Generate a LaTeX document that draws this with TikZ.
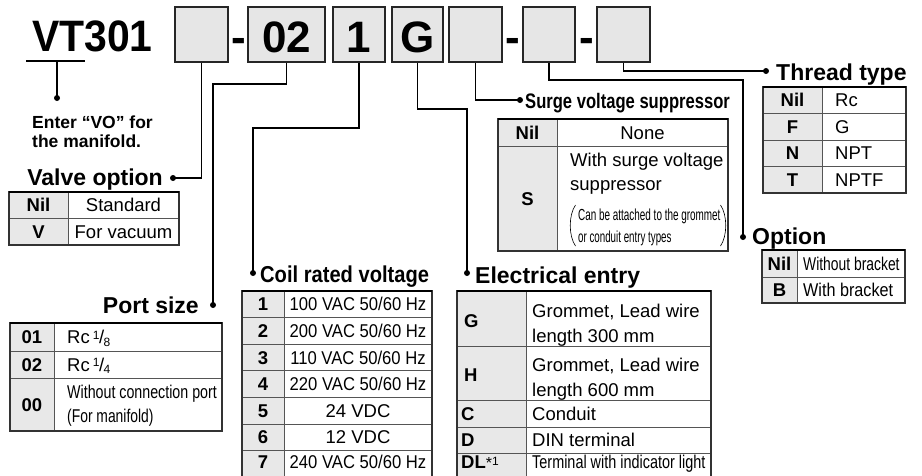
\documentclass[tikz,border=0pt]{standalone}
\usepackage{fontspec}
\setmainfont{Liberation Sans}
\usepackage{graphicx}

\definecolor{keygray}{HTML}{E8E8E8}
\definecolor{boxgray}{HTML}{E6E6E6}
\definecolor{rulegray}{HTML}{555555}

\newcommand{\condtext}[2]{\scalebox{#1}[1]{#2}}
\newcommand{\portfrac}[2]{\,{\fontsize{12}{12}\selectfont\raisebox{4.5pt}{#1}}\kern-0.5pt/\kern-0.5pt{\fontsize{12}{12}\selectfont\raisebox{-2.5pt}{#2}}}

\tikzset{
  codebox/.style={draw=black!85, line width=1.8pt, fill=boxgray, minimum height=55pt, inner sep=0, text height=35pt, text depth=0pt, font=\bfseries\fontsize{44}{44}\selectfont},
  heading/.style={inner sep=0, font=\bfseries\fontsize{23}{23}\selectfont},
  keytxt/.style={inner sep=0, text height=13pt, text depth=0pt, font=\bfseries\fontsize{18.5}{18.5}\selectfont},
  valtxt/.style={inner sep=0, text height=13pt, text depth=0pt, font=\fontsize{18.5}{18.5}\selectfont},
  notetxt/.style={inner sep=0, font=\fontsize{16}{16}\selectfont},
  lead/.style={line width=1.8pt},
  cellline/.style={draw=rulegray, line width=0.9pt},
  tableframe/.style={draw=black!80, line width=1.1pt},
  tabletop/.style={draw=black, line width=2.2pt}
}

\begin{document}
\begin{tikzpicture}[x=1pt, y=-1pt]
    \useasboundingbox (0,0) rectangle (922,475);

    % Model code
    \node[inner sep=0, anchor=base west, font=\bfseries\fontsize{44}{44}\selectfont] (vt) at (32,51) {\condtext{0.93}{VT301}};
    \draw[lead] (26,61) -- (85,61);
    \coordinate (uvt) at (57,61);
    \coordinate (dmani) at (57,98);
    \draw[lead] (uvt) -- (dmani);
    \fill (dmani) circle (3pt);
    \node[inner sep=0, anchor=base west, font=\bfseries\fontsize{17.5}{17.5}\selectfont] (enter1) at (32,128) {Enter “VO” for};
    \node[inner sep=0, anchor=base west, font=\bfseries\fontsize{17.5}{17.5}\selectfont] (enter2) at (32,147) {the manifold.};

    % Boxes
    \node[codebox, minimum width=53pt] (bxvalve) at (201.5,34.5) {};
    \node[codebox, minimum width=77pt] (bxport) at (286.5,34.5) {02};
    \node[codebox, minimum width=52pt] (bxcoil) at (359,34.5) {1};
    \node[codebox, minimum width=51pt] (bxentry) at (417.5,34.5) {G};
    \node[codebox, minimum width=53pt] (bxsurge) at (475.5,34.5) {};
    \node[codebox, minimum width=52pt] (bxoption) at (549,34.5) {};
    \node[codebox, minimum width=53pt] (bxthread) at (623.5,34.5) {};
    \node[inner sep=0, anchor=base, font=\bfseries\fontsize{44}{44}\selectfont] (dash1) at (239,52) {-};
    \node[inner sep=0, anchor=base, font=\bfseries\fontsize{44}{44}\selectfont] (dash2) at (513,52) {-};
    \node[inner sep=0, anchor=base, font=\bfseries\fontsize{44}{44}\selectfont] (dash3) at (586.5,52) {-};

    % Leader lines
    \coordinate (dvalve) at (173,178);
    \coordinate (dport) at (213,305);
    \coordinate (dcoil) at (253,273);
    \coordinate (dentry) at (467,273);
    \coordinate (dsurge) at (520,100);
    \coordinate (doption) at (743,237);
    \coordinate (dthread) at (766,71);
    \draw[lead] (bxvalve.south) |- (dvalve);
    \draw[lead] (bxport.south) -- ++(0,21) -| (dport);
    \draw[lead] (bxcoil.south) -- ++(0,65) -| (dcoil);
    \draw[lead] (bxentry.south) -- ++(0,46) -| (dentry);
    \draw[lead] (bxsurge.south) |- (dsurge);
    \draw[lead] (bxoption.south) -- ++(0,17) -| (doption);
    \draw[lead] (bxthread.south) |- (dthread);
    \foreach \d in {dvalve,dport,dcoil,dentry,dsurge,doption,dthread}
        \fill (\d) circle (3pt);

    % Headings
    \node[heading, anchor=base east] (hvalve) at (163,185.5) {Valve option};
    \node[heading, anchor=base east] (hport) at (199,313) {Port size};
    \node[heading, anchor=base west] (hcoil) at (260,282) {\condtext{0.875}{Coil rated voltage}};
    \node[heading, anchor=base west] (hentry) at (475,283) {Electrical entry};
    \node[heading, anchor=base west] (hsurge) at (525,108) {\fontsize{21}{21}\selectfont\condtext{0.79}{Surge voltage suppressor}};
    \node[heading, anchor=base west] (hthread) at (776,80) {Thread type};
    \node[heading, anchor=base west] (hoption) at (752,244) {Option};

    % Valve option table
    \fill[keygray] (9,192) rectangle (68,245);
    \draw[cellline] (9,218) -- (179,218) (68,192) -- (68,245);
    \draw[tableframe] (9,192) rectangle (179,245);
    \draw[tabletop] (9,192) -- (179,192);
    \node[keytxt] (vnil) at (38.5,205) {Nil};
    \node[valtxt] (vstd) at (123.5,205) {Standard};
    \node[keytxt] (vv) at (38.5,231.5) {V};
    \node[valtxt] (vvac) at (123.5,231.5) {For vacuum};

    % Port size table
    \fill[keygray] (10,323) rectangle (54,431);
    \draw[cellline] (10,351) -- (222,351) (10,378) -- (222,378) (54,323) -- (54,431);
    \draw[tableframe] (10,323) rectangle (222,431);
    \draw[tabletop] (10,323) -- (222,323);
    \node[keytxt] (p01) at (32,337) {01};
    \node[valtxt, anchor=west] (prc8) at (67,337) {Rc\portfrac{1}{8}};
    \node[keytxt] (p02) at (32,364.5) {02};
    \node[valtxt, anchor=west] (prc4) at (67,364.5) {Rc\portfrac{1}{4}};
    \node[keytxt] (p00) at (32,404.5) {00};
    \node[valtxt, anchor=base west] (pnone1) at (67,398) {\condtext{0.77}{Without connection port}};
    \node[valtxt, anchor=base west] (pnone2) at (67,422) {\condtext{0.75}{(For manifold)}};

    % Coil rated voltage table
    \fill[keygray] (242,291) rectangle (284,478);
    \draw[cellline] (242,317.6) -- (432,317.6) (242,344.2) -- (432,344.2) (242,370.8) -- (432,370.8)
        (242,397.4) -- (432,397.4) (242,424) -- (432,424) (242,450.6) -- (432,450.6) (284,291) -- (284,478);
    \draw[tableframe] (242,478) -- (242,291) -- (432,291) -- (432,478);
    \draw[tabletop] (242,291) -- (432,291);
    \node[keytxt] (c1) at (263,304.3) {1};
    \node[valtxt] (c1v) at (358,304.3) {\condtext{0.9}{100 VAC 50/60 Hz}};
    \node[keytxt] (c2) at (263,330.9) {2};
    \node[valtxt] (c2v) at (358,330.9) {\condtext{0.9}{200 VAC 50/60 Hz}};
    \node[keytxt] (c3) at (263,357.5) {3};
    \node[valtxt] (c3v) at (358,357.5) {\condtext{0.9}{110 VAC 50/60 Hz}};
    \node[keytxt] (c4) at (263,384.1) {4};
    \node[valtxt] (c4v) at (358,384.1) {\condtext{0.9}{220 VAC 50/60 Hz}};
    \node[keytxt] (c5) at (263,410.7) {5};
    \node[valtxt] (c5v) at (358,410.7) {24 VDC};
    \node[keytxt] (c6) at (263,437.3) {6};
    \node[valtxt] (c6v) at (358,437.3) {12 VDC};
    \node[keytxt] (c7) at (263,461.5) {7};
    \node[valtxt] (c7v) at (358,461.5) {\condtext{0.9}{240 VAC 50/60 Hz}};

    % Electrical entry table
    \fill[keygray] (457,291) rectangle (526,480);
    \draw[cellline] (457,346) -- (711,346) (457,400) -- (711,400) (457,427) -- (711,427)
        (457,453) -- (711,453) (526,291) -- (526,480);
    \draw[tableframe] (457,480) -- (457,291) -- (711,291) -- (711,480);
    \draw[tabletop] (457,291) -- (711,291);
    \node[keytxt, anchor=west] (eg) at (464,320.5) {G};
    \node[valtxt, anchor=base west] (eg1) at (532,317) {Grommet, Lead wire};
    \node[valtxt, anchor=base west] (eg2) at (532,342) {length 300 mm};
    \node[keytxt, anchor=west] (eh) at (464,375) {H};
    \node[valtxt, anchor=base west] (eh1) at (532,371) {Grommet, Lead wire};
    \node[valtxt, anchor=base west] (eh2) at (532,396) {length 600 mm};
    \node[keytxt, anchor=west] (ec) at (461,413.5) {C};
    \node[valtxt, anchor=west] (ec1) at (532,413.5) {Conduit};
    \node[keytxt, anchor=west] (ed) at (461,440) {D};
    \node[valtxt, anchor=west] (ed1) at (532,440) {DIN terminal};
    \node[keytxt, anchor=west] (edl) at (461,462) {DL{\mdseries\fontsize{16}{16}\selectfont *\raisebox{3pt}{\fontsize{12}{12}\selectfont 1}}};
    \node[valtxt, anchor=west] (edl1) at (532,462) {\condtext{0.78}{Terminal with indicator light}};

    % Surge voltage suppressor table
    \fill[keygray] (498,119) rectangle (557,251);
    \draw[cellline] (498,146) -- (728,146) (557,119) -- (557,251);
    \draw[tableframe] (498,119) rectangle (728,251);
    \draw[tabletop] (498,119) -- (728,119);
    \node[keytxt] (snil) at (527.5,132.5) {Nil};
    \node[valtxt] (snone) at (642.5,132.5) {None};
    \node[keytxt] (ss) at (527.5,198.5) {S};
    \node[valtxt, anchor=base west] (ss1) at (570,166) {With surge voltage};
    \node[valtxt, anchor=base west] (ss2) at (570,190) {suppressor};
    \node[notetxt, anchor=base west] (snote1) at (578,220) {\condtext{0.62}{Can be attached to the grommet}};
    \node[notetxt, anchor=base west] (snote2) at (578,242) {\condtext{0.61}{or conduit entry types}};
    % brackets round the note
    \draw[line width=0.6pt] (575.5,205) .. controls (568.5,215) and (568.5,236) .. (575.5,246);
    \draw[line width=0.6pt] (720.5,205) .. controls (727.5,215) and (727.5,236) .. (720.5,246);

    % Thread type table
    \fill[keygray] (763,87) rectangle (822,193);
    \draw[cellline] (763,113.5) -- (906,113.5) (763,140) -- (906,140) (763,166.5) -- (906,166.5) (822,87) -- (822,193);
    \draw[tableframe] (763,87) rectangle (906,193);
    \draw[tabletop] (763,87) -- (906,87);
    \node[keytxt] (tnil) at (792.5,100.3) {Nil};
    \node[valtxt, anchor=west] (trc) at (835,100.3) {Rc};
    \node[keytxt] (tf) at (792.5,126.8) {F};
    \node[valtxt, anchor=west] (tg) at (835,126.8) {G};
    \node[keytxt] (tn) at (792.5,153.3) {N};
    \node[valtxt, anchor=west] (tnpt) at (835,153.3) {NPT};
    \node[keytxt] (tt) at (792.5,179.8) {T};
    \node[valtxt, anchor=west] (tnptf) at (835,179.8) {NPTF};

    % Option table
    \fill[keygray] (762,250) rectangle (797,303);
    \draw[cellline] (762,277) -- (905,277) (797,250) -- (797,303);
    \draw[tableframe] (762,250) rectangle (905,303);
    \draw[tabletop] (762,250) -- (905,250);
    \node[keytxt] (onil) at (779.5,263.5) {Nil};
    \node[valtxt, anchor=west] (owo) at (803,263.5) {\condtext{0.75}{Without bracket}};
    \node[keytxt] (ob) at (779.5,290) {B};
    \node[valtxt, anchor=west] (ow) at (803,290) {\condtext{0.875}{With bracket}};
\end{tikzpicture}
\end{document}
